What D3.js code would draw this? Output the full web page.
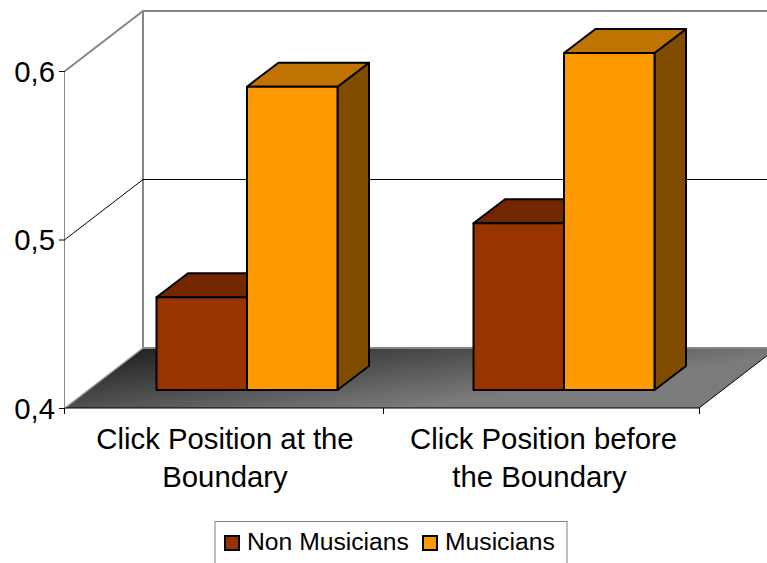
<!DOCTYPE html>
<html>
<head>
<meta charset="utf-8">
<script src="https://cdn.jsdelivr.net/npm/d3@7"></script>
<style>
  html, body { margin: 0; padding: 0; background: #fff; overflow: hidden; }
  svg { display: block; }
  text { font-family: "Liberation Sans", sans-serif; fill: #000; }
</style>
</head>
<body>
<svg width="767" height="563"></svg>
<script>
const categories = ["Click Position at the Boundary", "Click Position before the Boundary"];
const categoryLines = [["Click Position at the", "Boundary"], ["Click Position before", "the Boundary"]];
const seriesNames = ["Non Musicians", "Musicians"];
const nonMusicians = [0.455, 0.499];
const musicians = [0.58, 0.6];
const yTicks = [0.4, 0.5, 0.6];

const svg = d3.select("svg");

const left = 65, right = 699, bottom = 408;
const depthX = 78, depthY = -60;

const x = d3.scaleBand().domain(categories).range([left, right]);
const y = d3.scaleLinear().domain([0.4, 0.6]).range([bottom, 71]);
const tickFormat = d3.format(".1f");

const seriesList = [
  { name: seriesNames[0], values: nonMusicians, front: "#993300", top: "#732600", side: "#4d1a00" },
  { name: seriesNames[1], values: musicians, front: "#ff9900", top: "#bf7300", side: "#804d00" },
];

// floor shading runs mostly front to back, drifting lighter to the right
const defs = svg.append("defs");
const floorGrad = defs.append("linearGradient")
  .attr("id", "floorGrad")
  .attr("gradientUnits", "userSpaceOnUse")
  .attr("x1", left + depthX).attr("y1", bottom + depthY)
  .attr("x2", left + depthX + 13).attr("y2", bottom + depthY + 94);
floorGrad.append("stop").attr("offset", 0).attr("stop-color", "#222");
floorGrad.append("stop").attr("offset", 1).attr("stop-color", "#7b7b7b");

// back wall and side wall
const chart = svg.append("g");
const topY = y(0.6) + depthY;
chart.append("polyline")
  .attr("points", [[left, y(0.6)], [left + depthX, topY], [767, topY]].join(" "))
  .attr("fill", "none").attr("stroke", "#868686").attr("stroke-width", 2);
chart.append("line")
  .attr("x1", left + depthX).attr("x2", left + depthX)
  .attr("y1", topY).attr("y2", bottom + depthY)
  .attr("stroke", "#868686").attr("stroke-width", 2);
chart.append("line")
  .attr("x1", left - 0.5).attr("x2", left - 0.5)
  .attr("y1", y(0.6)).attr("y2", bottom)
  .attr("stroke", "#868686").attr("stroke-width", 1);

// gridline at the middle tick
chart.append("polyline")
  .attr("points", [[left, y(0.5)], [left + depthX, y(0.5) + depthY], [767, y(0.5) + depthY]].join(" "))
  .attr("fill", "none").attr("stroke", "#000").attr("stroke-width", 1);

// floor
chart.append("polygon")
  .attr("points", [[left, bottom], [left + depthX, bottom + depthY], [right + depthX, bottom + depthY], [right, bottom]].join(" "))
  .attr("fill", "url(#floorGrad)");
chart.append("line")
  .attr("x1", left + depthX).attr("x2", 767)
  .attr("y1", bottom + depthY).attr("y2", bottom + depthY)
  .attr("stroke", "#868686").attr("stroke-width", 2);
chart.append("line")
  .attr("x1", left).attr("x2", left + depthX)
  .attr("y1", bottom).attr("y2", bottom + depthY)
  .attr("stroke", "#999").attr("stroke-width", 1.5);
chart.append("line")
  .attr("x1", right).attr("x2", right + depthX)
  .attr("y1", bottom).attr("y2", bottom + depthY)
  .attr("stroke", "#000").attr("stroke-width", 1);

// axes
const yAxis = d3.axisLeft(y).tickValues(yTicks).tickSize(6).tickPadding(4)
  .tickFormat((d) => tickFormat(d).replace(".", ","));
const yAxisG = svg.append("g").attr("transform", `translate(${left},0)`).call(yAxis);
yAxisG.select(".domain").remove();
yAxisG.selectAll("text").attr("font-size", 29.3).attr("font-family", "Liberation Sans").attr("y", 1);
yAxisG.selectAll("line").attr("stroke", "#000");

const xAxisLine = svg.append("g").attr("transform", `translate(0,${bottom})`);
xAxisLine.append("line").attr("x1", left).attr("x2", right).attr("stroke", "#000");
xAxisLine.selectAll("line.tick")
  .data([left - 0.5, x(categories[1]) + 1.5, right + 0.5])
  .join("line")
  .attr("class", "tick")
  .attr("x1", (d) => d).attr("x2", (d) => d)
  .attr("y1", 0).attr("y2", 6)
  .attr("stroke", "#000");

// category labels, two lines each
const labelShift = [[1.5, 1.5], [3, -1]];
categories.forEach((cat, i) =>
{
  const label = svg.append("text")
    .attr("text-anchor", "middle")
    .attr("font-size", 29.3);
  categoryLines[i].forEach((line, j) =>
  {
    label.append("tspan")
      .attr("x", x(cat) + x.bandwidth() / 2 + labelShift[i][j])
      .attr("y", 449 + j * 38)
      .text(line);
  });
});

// bars with their top and side faces
const barOffsetX = 23.5, barOffsetY = -18;
const barDepthX = 31.5, barDepthY = -24;
const barWidth = 90.5;

function drawBar(i, s, k)
{
  const value = s.values[i];
  const x0 = x(categories[i]) + x.bandwidth() / 2 + barOffsetX + (k - 1) * barWidth;
  const x1 = x0 + barWidth;
  const yBase = bottom + barOffsetY;
  const yTop = y(value) + barOffsetY;
  const g = svg.append("g").attr("stroke", "#000").attr("stroke-width", 2).attr("stroke-linejoin", "round");
  g.append("polygon")
    .attr("points", [[x1, yTop], [x1 + barDepthX, yTop + barDepthY], [x1 + barDepthX, yBase + barDepthY], [x1, yBase]].join(" "))
    .attr("fill", s.side);
  g.append("polygon")
    .attr("points", [[x0, yTop], [x0 + barDepthX, yTop + barDepthY], [x1 + barDepthX, yTop + barDepthY], [x1, yTop]].join(" "))
    .attr("fill", s.top);
  g.append("rect")
    .attr("x", x0).attr("y", yTop)
    .attr("width", barWidth).attr("height", yBase - yTop)
    .attr("fill", s.front);
}

categories.forEach((cat, i) =>
{
  seriesList.forEach((s, k) => drawBar(i, s, k));
});

// legend, its box runs off the bottom edge
const legend = svg.append("g");
legend.append("rect")
  .attr("x", 215).attr("y", 521.5)
  .attr("width", 352).attr("height", 50)
  .attr("fill", "#fff").attr("stroke", "#808080").attr("stroke-width", 1);
const legendX = [225, 423];
seriesList.forEach((s, k) =>
{
  legend.append("rect")
    .attr("x", legendX[k]).attr("y", 536)
    .attr("width", 14).attr("height", 14)
    .attr("fill", s.front).attr("stroke", "#000").attr("stroke-width", 2);
  legend.append("text")
    .attr("x", legendX[k] + 22).attr("y", 550)
    .attr("font-size", 24.7)
    .text(s.name);
});
</script>
</body>
</html>
